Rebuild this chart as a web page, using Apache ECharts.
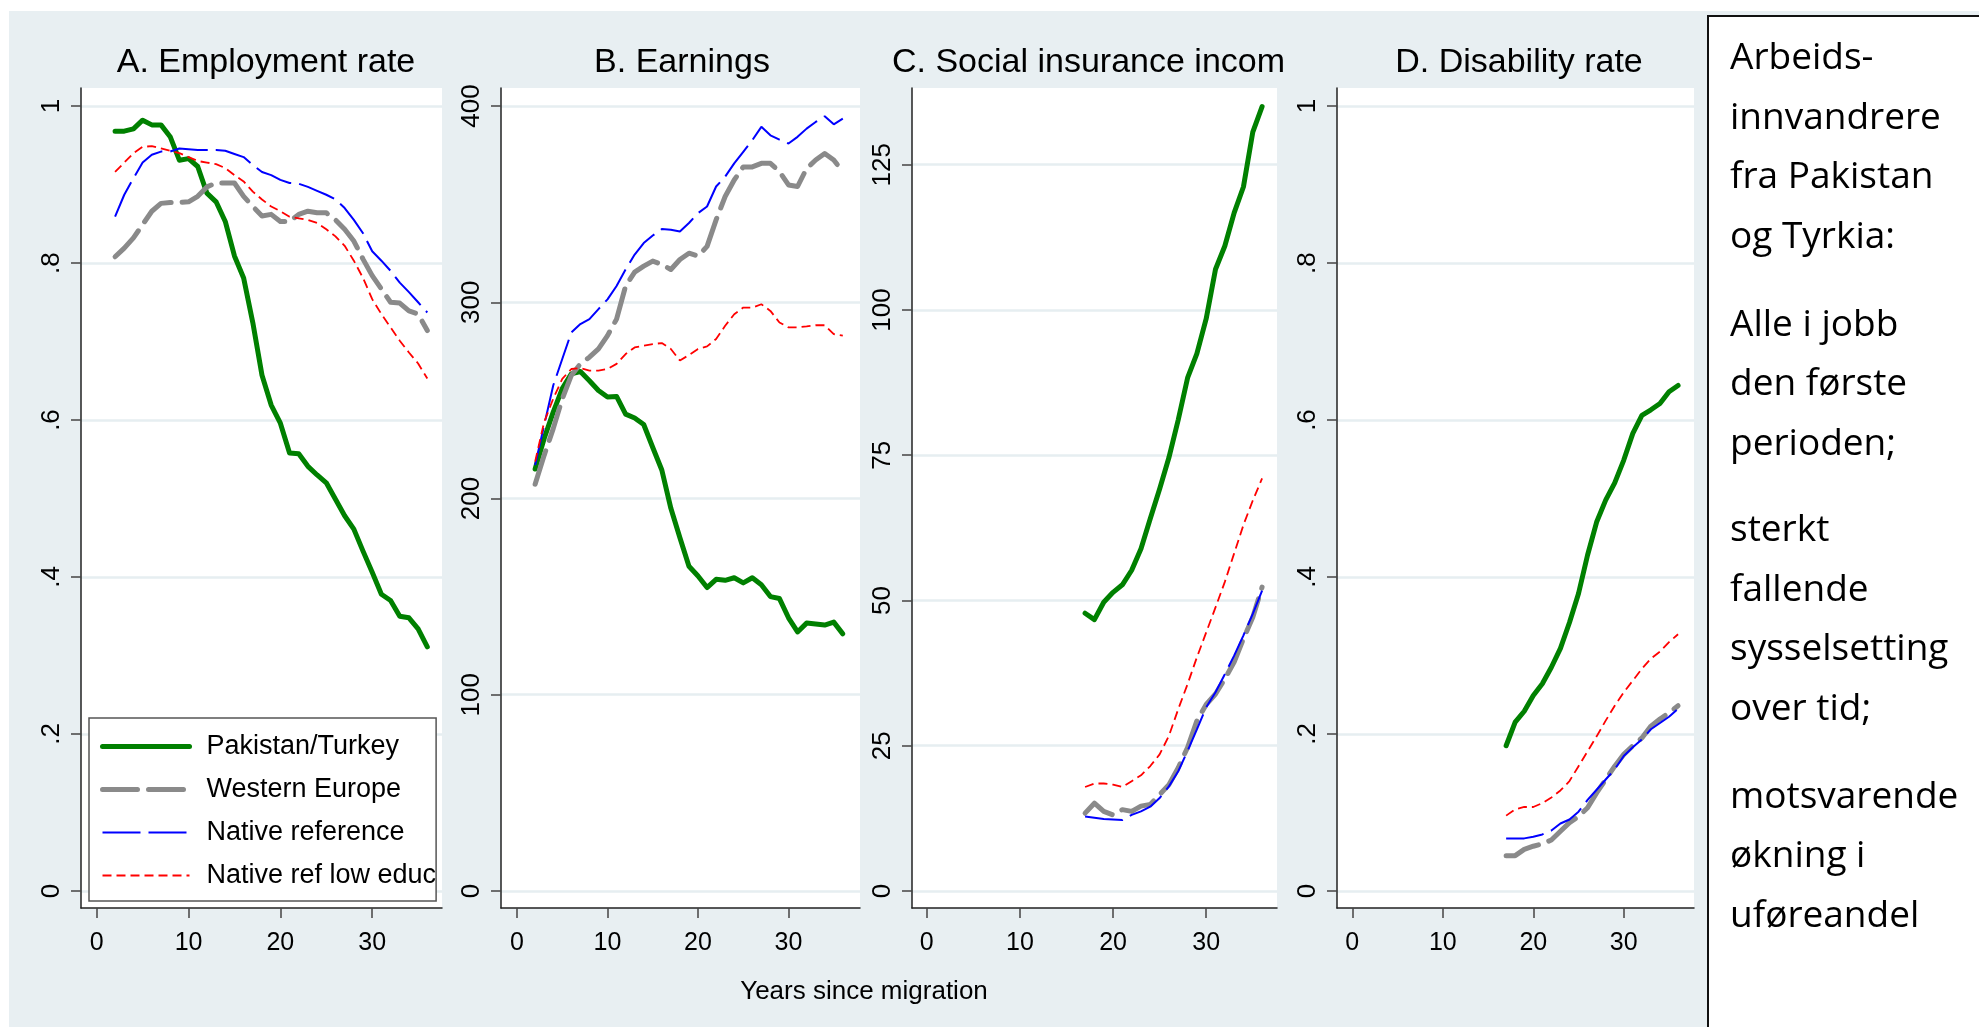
<!DOCTYPE html>
<html>
<head>
<meta charset="utf-8">
<script src="https://cdn.jsdelivr.net/npm/echarts@6/dist/echarts.min.js"></script>
<style>
  html, body { margin: 0; padding: 0; background: #fff; }
  #main { width: 1979px; height: 1027px; }
</style>
</head>
<body>
<div id="main"></div>
<script>
// years since migration
var yearsLong = [2,3,4,5,6,7,8,9,10,11,12,13,14,15,16,17,18,19,20,21,22,23,24,25,26,27,28,29,30,31,32,33,34,35,36];
var yearsShort = [17,18,19,20,21,22,23,24,25,26,27,28,29,30,31,32,33,34,35,36];

// A. Employment rate
var empPak    = [.968,.968,.971,.982,.976,.976,.961,.931,.933,.923,.889,.878,.853,.809,.781,.724,.657,.619,.596,.558,.557,.541,.530,.520,.499,.478,.461,.433,.406,.378,.370,.350,.348,.334,.311];
var empWest   = [.808,.819,.832,.849,.866,.876,.877,.877,.878,.885,.897,.902,.902,.902,.885,.872,.860,.862,.853,.853,.862,.866,.864,.864,.855,.843,.828,.805,.784,.767,.750,.749,.739,.735,.714];
var empNative = [.859,.887,.908,.928,.938,.942,.942,.946,.945,.944,.944,.944,.943,.939,.935,.925,.916,.912,.906,.902,.901,.897,.892,.887,.881,.870,.855,.838,.815,.803,.790,.775,.763,.750,.737];
var empLow    = [.916,.928,.940,.948,.949,.946,.943,.940,.935,.930,.928,.926,.921,.912,.904,.891,.881,.872,.866,.859,.857,.855,.851,.843,.834,.822,.803,.781,.754,.735,.718,.701,.686,.672,.653];

// B. Earnings
var earnPak    = [215,230.6,244,256,263.5,264.7,260,255,251.7,252,243,241,237.7,226,214.5,195,180,165.5,160.5,154.6,158.8,158.3,159.6,157,159.6,156,150,149,139.2,132,136.5,136,135.5,137,131];
var earnWest   = [207.3,222,235.6,250.8,262.7,268.6,272,276.2,283,291.4,308.3,315.4,318.4,321,319.3,316.7,321.8,325,323.5,328.5,342,353.9,362.3,369,369,370.8,370.8,366.6,359.8,359,368.2,372.5,375.8,372.5,366.6];
var earnNative = [217,237.3,257.6,271.1,284.6,288.9,291.4,296.5,301.5,308.3,316.7,324.3,330.2,334,337.3,337,336.1,340.4,345.4,348.8,359,364,370.8,376.7,382.6,389.4,385.1,382.9,380.9,384.3,388.5,391.9,394.8,390.7,393.6];
var earnLow    = [218.8,239,250.8,261,266,266.4,265.2,265.2,266,268.6,273.6,277,277.9,278.7,279.2,276.2,270.3,273.1,276.2,277.5,281.3,288,293.9,297.3,297.3,299,295.6,289.7,287.2,287.2,287.7,288.3,288.3,283.8,283];

// C. Social insurance income
var socPak    = [47.8,46.7,49.7,51.4,52.7,55.2,58.9,64.1,69.2,74.6,81.1,88.3,92.5,98.5,107,111,116.7,121.2,130.6,135];
var socWest   = [13.4,15.1,13.7,13.1,14,13.7,14.6,14.9,16.6,18.3,21.2,24.7,29.3,32.1,33.9,36.5,39.4,43.4,47.1,52.3];
var socNative = [12.8,12.6,12.4,12.3,12.2,13.1,13.7,14.5,16,18,20.6,24.1,27.8,31.6,34.2,37.3,40.5,44,47.7,51.7];
var socLow    = [17.9,18.5,18.5,18.3,17.9,18.9,19.9,21.5,23.5,26.7,31.3,35.6,40.2,44.5,48.8,53.2,58.1,63,67.2,71];

// D. Disability rate
var disPak    = [.185,.215,.229,.249,.264,.285,.309,.342,.379,.428,.470,.498,.520,.549,.583,.606,.613,.621,.636,.644];
var disWest   = [.045,.045,.053,.057,.060,.065,.076,.087,.095,.106,.125,.142,.159,.174,.185,.195,.210,.219,.227,.236];
var disNative = [.067,.067,.067,.069,.072,.077,.086,.091,.101,.116,.129,.142,.155,.172,.183,.193,.206,.214,.222,.232];
var disLow    = [.096,.104,.107,.107,.112,.119,.128,.140,.159,.178,.197,.217,.236,.253,.268,.283,.296,.305,.317,.327];

// tick labels
var xTicks = [0, 10, 20, 30];
var rateTicks = [0, .2, .4, .6, .8, 1];
var earnTicks = [0, 100, 200, 300, 400];
var socTicks = [0, 25, 50, 75, 100, 125];

var groupNames = ['Pakistan/Turkey', 'Western Europe', 'Native reference', 'Native ref low educ'];
var panelTitles = ['A. Employment rate', 'B. Earnings', 'C. Social insurance incom', 'D. Disability rate'];
var xTitle = 'Years since migration';
var noteParas = [
  'Arbeids-\ninnvandrere\nfra Pakistan\nog Tyrkia:',
  'Alle i jobb\nden første\nperioden;',
  'sterkt\nfallende\nsysselsetting\nover tid;',
  'motsvarende\nøkning i\nuføreandel'
];

var FONT = 'Liberation Sans';
var BG = '#e8eff2';

var lineStyles = [
  { color: '#008000', width: 5, type: 'solid', cap: 'round', join: 'round' },
  { color: '#8a8a8a', width: 5, type: [35, 11], cap: 'round', join: 'round' },
  { color: '#0000ff', width: 2, type: [38, 8] },
  { color: '#ff0000', width: 1.8, type: [9, 5] }
];

var panels = [
  { years: yearsLong,  data: [empPak, empWest, empNative, empLow],     ticks: rateTicks, ymin: -0.0217, ymax: 1.023, xmin: -1.71, xmax: 37.6,
    grid: { left: 81, width: 361 } },
  { years: yearsLong,  data: [earnPak, earnWest, earnNative, earnLow], ticks: earnTicks, ymin: -8.7, ymax: 409.2, xmin: -1.77, xmax: 37.9,
    grid: { left: 501, width: 359 } },
  { years: yearsShort, data: [socPak, socWest, socNative, socLow],     ticks: socTicks, ymin: -2.93, ymax: 138.2, xmin: -1.58, xmax: 37.6,
    grid: { left: 912, width: 365 } },
  { years: yearsShort, data: [disPak, disWest, disNative, disLow],     ticks: rateTicks, ymin: -0.0217, ymax: 1.023, xmin: -1.69, xmax: 37.76,
    grid: { left: 1337, width: 357 } }
];

function pairs(xs, ys) {
  return xs.map(function (x, i) { return [x, ys[i]]; });
}

function rateLabel(v) {
  if (v === 0) return '0';
  if (v === 1) return '1';
  return String(v).replace(/^0\./, '.');
}

var grids = [], xAxes = [], yAxes = [], series = [];
panels.forEach(function (p, i) {
  grids.push({
    left: p.grid.left, top: 88, width: p.grid.width, height: 820,
    show: true, backgroundColor: '#fff', borderWidth: 0
  });
  xAxes.push({
    type: 'value', gridIndex: i, min: p.xmin, max: p.xmax,
    axisLine: { show: true, onZero: false, lineStyle: { color: '#222', width: 1.5 } },
    axisTick: { show: true, length: 10, customValues: xTicks, lineStyle: { color: '#444', width: 1.5 } },
    axisLabel: { customValues: xTicks, margin: 23, fontSize: 25, fontFamily: FONT, color: '#000' },
    splitLine: { show: false }
  });
  yAxes.push({
    type: 'value', gridIndex: i, min: p.ymin, max: p.ymax,
    axisLine: { show: true, onZero: false, lineStyle: { color: '#222', width: 1.5 } },
    axisTick: { show: true, length: 10, customValues: p.ticks, lineStyle: { color: '#444', width: 1.5 } },
    axisLabel: {
      customValues: p.ticks, rotate: 90, margin: 16, fontSize: 26, fontFamily: FONT, color: '#000',
      formatter: p.ticks === rateTicks ? rateLabel : function (v) { return String(v); }
    },
    splitLine: { show: true, lineStyle: { color: '#e6eef1', width: 2.5 } }
  });
  p.data.forEach(function (vals, g) {
    series.push({
      name: groupNames[g],
      type: 'line',
      xAxisIndex: i, yAxisIndex: i,
      data: pairs(p.years, vals),
      symbol: 'none',
      lineStyle: lineStyles[g],
      itemStyle: { color: lineStyles[g].color },
      silent: true
    });
  });
});

var titles = [
  { text: panelTitles[0], left: 266, top: 63, textAlign: 'center' },
  { text: panelTitles[1], left: 682, top: 63, textAlign: 'center' },
  { text: panelTitles[2], left: 892, top: 63, textAlign: 'left' },
  { text: panelTitles[3], left: 1519, top: 63, textAlign: 'center' }
].map(function (t) {
  t.textVerticalAlign = 'middle';
  t.padding = 0;
  t.textStyle = { fontSize: 34, fontWeight: 'normal', fontFamily: FONT, color: '#000' };
  return t;
});
titles.push({
  text: xTitle, left: 864, top: 992, textAlign: 'center', textVerticalAlign: 'middle', padding: 0,
  textStyle: { fontSize: 26, fontWeight: 'normal', fontFamily: FONT, color: '#000' }
});

var paraTops = [29, 295.25, 500.75, 767.25];
var graphics = [
  { type: 'rect', shape: { x: 0, y: 0, width: 1979, height: 11 }, style: { fill: '#fff' }, silent: true },
  { type: 'rect', shape: { x: 0, y: 0, width: 9, height: 1027 }, style: { fill: '#fff' }, silent: true },
  { type: 'rect', shape: { x: 1708, y: 16, width: 290, height: 1030 }, style: { fill: '#fff', stroke: '#111', lineWidth: 2 }, silent: true }
];
noteParas.forEach(function (txt, k) {
  graphics.push({
    type: 'text', x: 1730, y: paraTops[k], silent: true,
    style: { text: txt, font: '37px "Open Sans"', fill: '#000', lineHeight: 59.5, align: 'left', verticalAlign: 'top' }
  });
});

var myChart = echarts.init(document.getElementById('main'), null, { renderer: 'canvas' });
var option = {
  animation: false,
  backgroundColor: BG,
  title: titles,
  legend: {
    data: groupNames,
    orient: 'vertical',
    left: 89, top: 718,
    padding: [15, 0, 12, 11],
    itemWidth: 87, itemHeight: 14, itemGap: 16,
    itemStyle: { opacity: 0 },
    lineStyle: { width: 'inherit', type: 'inherit' },
    backgroundColor: '#fff', borderColor: '#555', borderWidth: 1.5, borderRadius: 0,
    textStyle: { fontSize: 27, fontFamily: FONT, color: '#000', padding: [0, 0, 0, 12] },
    selectedMode: false
  },
  grid: grids,
  xAxis: xAxes,
  yAxis: yAxes,
  series: series,
  graphic: { elements: graphics }
};
myChart.setOption(option);
</script>
</body>
</html>
